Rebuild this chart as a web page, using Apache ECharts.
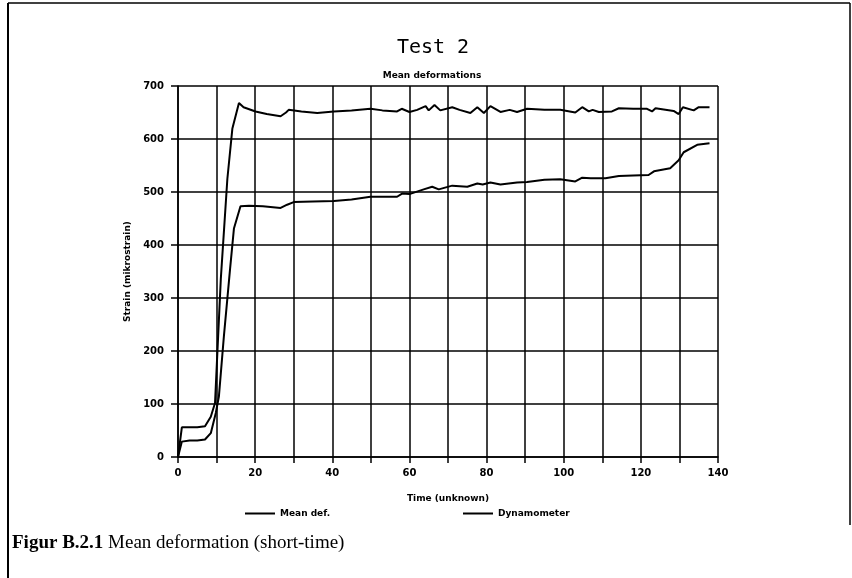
<!DOCTYPE html>
<html>
<head>
<meta charset="utf-8">
<script src="https://cdn.jsdelivr.net/npm/echarts@6/dist/echarts.min.js"></script>
<style>
html, body { margin: 0; padding: 0; background: #fff; }
#chart { width: 852px; height: 578px; }
</style>
</head>
<body>
<div id="chart"></div>
<script>
// upper curve
var meanTime = [0, 1, 2, 5, 7, 8.5, 9.6, 11.1, 12.8, 14.1, 15.8, 17, 20.1, 23, 26.6, 28, 28.7, 32, 36.1, 40.4,
	45, 49.9, 53, 56.8, 58, 60, 62, 64.2, 65, 66.5, 68, 71.1, 73, 75.8, 77.6, 79.3, 81, 83.6, 86, 87.9,
	90.5, 95, 99.1, 103, 104.8, 106.5, 107.5, 109.1, 112.5, 114.3, 118, 121.6, 122.9, 123.8, 128.5, 129.8, 130.9, 133.7, 135, 137.8];
var meanDef = [0, 56, 56, 56, 58, 76, 102, 336, 525, 620, 668, 660, 652, 647, 643, 650, 655, 652, 649, 652,
	654, 657, 654, 652, 657, 651, 655, 662, 654, 664, 654, 660, 655, 649, 660, 649, 662, 651, 655, 651,
	657, 655, 655, 650, 660, 652, 655, 651, 652, 658, 657, 657, 652, 658, 653, 647, 660, 654, 660, 660];
// lower curve
var dynTime = [0, 1, 3, 5, 7, 8.5, 9.8, 10.6, 11.9, 13.5, 14.5, 16.2, 18.4, 22, 26.6, 28.3, 30, 35, 40.4, 45,
	49.9, 54, 56.8, 58.1, 60, 63.7, 65.9, 67.6, 71.1, 75, 77.6, 79, 81, 83.6, 87.9, 90.5, 91, 95, 99.1, 103,
	104.8, 107, 110.8, 114.3, 118, 122, 123.4, 127.6, 129.8, 131.1, 134.6, 137.8];
var dynamometer = [0, 29, 31, 31, 33, 45, 83, 114, 228, 355, 431, 473, 474, 473, 470, 476, 481, 482, 483, 486,
	491, 491, 491, 497, 496, 505, 510, 505, 512, 510, 516, 514, 518, 514, 518, 519, 522, 523, 524, 520,
	527, 526, 526, 530, 531, 532, 539, 545, 560, 575, 589, 592];

function pairs(xs, ys) {
	var out = [];
	for (var i = 0; i < xs.length; i++) out.push([xs[i], ys[i]]);
	return out;
}

var txt = { fontFamily: 'DejaVu Sans', fontWeight: 'bold', fontSize: 9, color: '#000' };
var chart = echarts.init(document.getElementById('chart'));
chart.setOption({
	animation: false,
	backgroundColor: '#fff',
	title: [{
		text: 'Test 2', left: 428, top: 33, textAlign: 'center',
		textStyle: { fontFamily: 'DejaVu Sans Mono', fontWeight: 'normal', fontSize: 20, color: '#000' }
	}, {
		text: 'Mean deformations', left: 427, top: 66, textAlign: 'center',
		textStyle: txt
	}],
	legend: [{
		data: ['Mean def.'], left: 240, top: 504, itemWidth: 30, itemHeight: 2, icon: 'rect',
		textStyle: txt
	}, {
		data: ['Dynamometer'], left: 458, top: 504, itemWidth: 30, itemHeight: 2, icon: 'rect',
		textStyle: txt
	}],
	grid: { left: 178, right: 134, top: 86, bottom: 121 },
	xAxis: {
		type: 'value', min: 0, max: 140, interval: 10,
		name: 'Time (unknown)', nameLocation: 'middle', nameGap: 37,
		nameTextStyle: txt,
		axisLine: { lineStyle: { color: '#000', width: 1.5 } },
		axisTick: { length: 6, lineStyle: { color: '#000', width: 1.5 } },
		axisLabel: {
			margin: 11, fontFamily: 'DejaVu Sans', fontWeight: 'bold', fontSize: 10, color: '#000',
			formatter: function (v) { return v % 20 === 0 ? v : ''; }
		},
		splitLine: { show: true, lineStyle: { color: '#000', width: 1.5 } }
	},
	yAxis: {
		type: 'value', min: 0, max: 700, interval: 100,
		name: 'Strain (mikrostrain)', nameLocation: 'middle', nameGap: 30, nameRotate: 90,
		nameTextStyle: txt,
		axisLine: { show: true, lineStyle: { color: '#000', width: 1.5 } },
		axisTick: { show: true, length: 7, lineStyle: { color: '#000', width: 1.5 } },
		axisLabel: { margin: 14, fontFamily: 'DejaVu Sans', fontWeight: 'bold', fontSize: 10, color: '#000' },
		splitLine: { show: true, lineStyle: { color: '#000', width: 1.5 } }
	},
	series: [{
		name: 'Mean def.', type: 'line', showSymbol: false, symbol: 'none',
		lineStyle: { color: '#000', width: 2 }, itemStyle: { color: '#000' },
		data: pairs(meanTime, meanDef)
	}, {
		name: 'Dynamometer', type: 'line', showSymbol: false, symbol: 'none',
		lineStyle: { color: '#000', width: 2 }, itemStyle: { color: '#000' },
		data: pairs(dynTime, dynamometer)
	}],
	graphic: [
		{ type: 'line', shape: { x1: 8, y1: 3, x2: 850, y2: 3 }, style: { stroke: '#000', lineWidth: 1.5 } },
		{ type: 'line', shape: { x1: 8, y1: 3, x2: 8, y2: 578 }, style: { stroke: '#000', lineWidth: 2 } },
		{ type: 'line', shape: { x1: 850, y1: 3, x2: 850, y2: 525 }, style: { stroke: '#000', lineWidth: 1.5 } },
		{
			type: 'text', left: 12, top: 534,
			style: {
				text: '{b|Figur B.2.1} Mean deformation (short-time)',
				fontFamily: 'Liberation Serif', fontSize: 19, fill: '#000',
				rich: { b: { fontFamily: 'Liberation Serif', fontSize: 19, fontWeight: 'bold' } }
			}
		}
	]
});
</script>
</body>
</html>
